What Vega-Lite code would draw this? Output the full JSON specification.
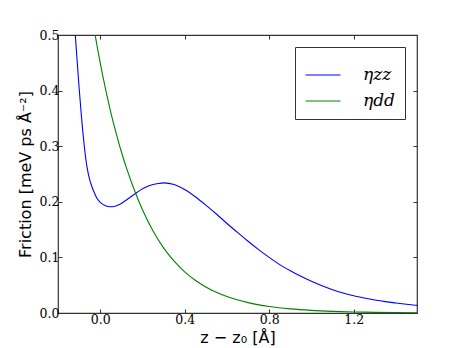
{
  "$schema": "https://vega.github.io/schema/vega-lite/v6.json",
  "width": 359,
  "height": 278,
  "autosize": "none",
  "padding": {"left": 58, "top": 35, "right": 46, "bottom": 35},
  "background": "#ffffff",
  "config": {
    "view": {"stroke": "#333333", "strokeWidth": 1.2},
    "axis": {
      "domain": false,
      "grid": false,
      "tickColor": "#333333",
      "tickSize": -4,
      "labelFont": "DejaVu Serif",
      "labelFontSize": 12.5,
      "labelColor": "#000000",
      "titleFont": "DejaVu Sans",
      "titleFontSize": 16,
      "titleFontWeight": "normal",
      "titleColor": "#000000"
    }
  },
  "data": {
    "values": [
      {"z": -0.124, "eta": 0.533, "series": "ηzz"},
      {"z": -0.118, "eta": 0.5, "series": "ηzz"},
      {"z": -0.11, "eta": 0.457, "series": "ηzz"},
      {"z": -0.1, "eta": 0.405, "series": "ηzz"},
      {"z": -0.09, "eta": 0.358, "series": "ηzz"},
      {"z": -0.083, "eta": 0.328, "series": "ηzz"},
      {"z": -0.075, "eta": 0.298, "series": "ηzz"},
      {"z": -0.068, "eta": 0.276, "series": "ηzz"},
      {"z": -0.06, "eta": 0.257, "series": "ηzz"},
      {"z": -0.05, "eta": 0.24, "series": "ηzz"},
      {"z": -0.04, "eta": 0.228, "series": "ηzz"},
      {"z": -0.03, "eta": 0.218, "series": "ηzz"},
      {"z": -0.015, "eta": 0.206, "series": "ηzz"},
      {"z": 0.003, "eta": 0.198, "series": "ηzz"},
      {"z": 0.025, "eta": 0.193, "series": "ηzz"},
      {"z": 0.047, "eta": 0.191, "series": "ηzz"},
      {"z": 0.07, "eta": 0.192, "series": "ηzz"},
      {"z": 0.1, "eta": 0.197, "series": "ηzz"},
      {"z": 0.13, "eta": 0.205, "series": "ηzz"},
      {"z": 0.16, "eta": 0.213, "series": "ηzz"},
      {"z": 0.19, "eta": 0.221, "series": "ηzz"},
      {"z": 0.22, "eta": 0.227, "series": "ηzz"},
      {"z": 0.25, "eta": 0.231, "series": "ηzz"},
      {"z": 0.275, "eta": 0.233, "series": "ηzz"},
      {"z": 0.3, "eta": 0.234, "series": "ηzz"},
      {"z": 0.35, "eta": 0.231, "series": "ηzz"},
      {"z": 0.4, "eta": 0.222, "series": "ηzz"},
      {"z": 0.45, "eta": 0.209, "series": "ηzz"},
      {"z": 0.5, "eta": 0.194, "series": "ηzz"},
      {"z": 0.55, "eta": 0.178, "series": "ηzz"},
      {"z": 0.6, "eta": 0.161, "series": "ηzz"},
      {"z": 0.65, "eta": 0.145, "series": "ηzz"},
      {"z": 0.7, "eta": 0.129, "series": "ηzz"},
      {"z": 0.75, "eta": 0.114, "series": "ηzz"},
      {"z": 0.8, "eta": 0.1, "series": "ηzz"},
      {"z": 0.85, "eta": 0.087, "series": "ηzz"},
      {"z": 0.9, "eta": 0.076, "series": "ηzz"},
      {"z": 0.95, "eta": 0.066, "series": "ηzz"},
      {"z": 1.0, "eta": 0.057, "series": "ηzz"},
      {"z": 1.05, "eta": 0.049, "series": "ηzz"},
      {"z": 1.1, "eta": 0.042, "series": "ηzz"},
      {"z": 1.15, "eta": 0.036, "series": "ηzz"},
      {"z": 1.2, "eta": 0.031, "series": "ηzz"},
      {"z": 1.25, "eta": 0.027, "series": "ηzz"},
      {"z": 1.3, "eta": 0.0235, "series": "ηzz"},
      {"z": 1.35, "eta": 0.0205, "series": "ηzz"},
      {"z": 1.4, "eta": 0.018, "series": "ηzz"},
      {"z": 1.45, "eta": 0.0157, "series": "ηzz"},
      {"z": 1.5, "eta": 0.0137, "series": "ηzz"},
      {"z": -0.04, "eta": 0.537, "series": "ηdd"},
      {"z": -0.025, "eta": 0.502, "series": "ηdd"},
      {"z": 0.0, "eta": 0.45, "series": "ηdd"},
      {"z": 0.025, "eta": 0.403, "series": "ηdd"},
      {"z": 0.05, "eta": 0.361, "series": "ηdd"},
      {"z": 0.075, "eta": 0.324, "series": "ηdd"},
      {"z": 0.1, "eta": 0.29, "series": "ηdd"},
      {"z": 0.125, "eta": 0.26, "series": "ηdd"},
      {"z": 0.15, "eta": 0.233, "series": "ηdd"},
      {"z": 0.168, "eta": 0.215, "series": "ηdd"},
      {"z": 0.2, "eta": 0.1856, "series": "ηdd"},
      {"z": 0.25, "eta": 0.1475, "series": "ηdd"},
      {"z": 0.3, "eta": 0.1172, "series": "ηdd"},
      {"z": 0.35, "eta": 0.0931, "series": "ηdd"},
      {"z": 0.4, "eta": 0.074, "series": "ηdd"},
      {"z": 0.45, "eta": 0.0588, "series": "ηdd"},
      {"z": 0.5, "eta": 0.0467, "series": "ηdd"},
      {"z": 0.6, "eta": 0.0295, "series": "ηdd"},
      {"z": 0.7, "eta": 0.0186, "series": "ηdd"},
      {"z": 0.8, "eta": 0.0117, "series": "ηdd"},
      {"z": 0.9, "eta": 0.0074, "series": "ηdd"},
      {"z": 1.0, "eta": 0.0047, "series": "ηdd"},
      {"z": 1.1, "eta": 0.003, "series": "ηdd"},
      {"z": 1.2, "eta": 0.0019, "series": "ηdd"},
      {"z": 1.3, "eta": 0.0012, "series": "ηdd"},
      {"z": 1.4, "eta": 0.00075, "series": "ηdd"},
      {"z": 1.5, "eta": 0.00047, "series": "ηdd"}
    ]
  },
  "layer": [
    {
      "mark": {"type": "line", "clip": true, "strokeWidth": 1.1, "interpolate": "monotone"},
      "encoding": {
        "x": {
          "field": "z", "type": "quantitative",
          "scale": {"domain": [-0.2, 1.5], "nice": false, "zero": false},
          "axis": {"orient": "bottom", "values": [0, 0.4, 0.8, 1.2], "format": ".1f", "title": "z − z₀ [Å]", "labelPadding": 4, "titlePadding": 4}
        },
        "y": {
          "field": "eta", "type": "quantitative",
          "scale": {"domain": [0, 0.5], "nice": false},
          "axis": {"orient": "left", "values": [0, 0.1, 0.2, 0.3, 0.4, 0.5], "format": ".1f", "title": "Friction [meV ps Å⁻²]", "labelPadding": 3, "titlePadding": 6}
        },
        "color": {
          "field": "series", "type": "nominal",
          "scale": {"domain": ["ηzz", "ηdd"], "range": ["#0000ff", "#008000"]},
          "legend": {
            "title": null,
            "orient": "top-right",
            "offset": 12,
            "strokeColor": "#333333",
            "fillColor": "#ffffff",
            "padding": 10,
            "symbolType": "stroke",
            "symbolSize": 1225,
            "symbolStrokeWidth": 1,
            "labelFont": "DejaVu Serif",
            "labelFontStyle": "italic",
            "labelFontSize": 17,
            "labelColor": "#000000",
            "labelOffset": 22,
            "rowPadding": 0
          }
        }
      }
    },
    {
      "mark": {"type": "point", "opacity": 0},
      "encoding": {
        "x": {
          "field": "z", "type": "quantitative",
          "scale": {"domain": [-0.2, 1.5], "nice": false, "zero": false},
          "axis": {"orient": "top", "values": [0, 0.4, 0.8, 1.2], "labels": false, "title": null}
        },
        "y": {
          "field": "eta", "type": "quantitative",
          "scale": {"domain": [0, 0.5], "nice": false},
          "axis": {"orient": "right", "values": [0, 0.1, 0.2, 0.3, 0.4, 0.5], "labels": false, "title": null}
        }
      }
    }
  ],
  "resolve": {"axis": {"x": "independent", "y": "independent"}}
}
